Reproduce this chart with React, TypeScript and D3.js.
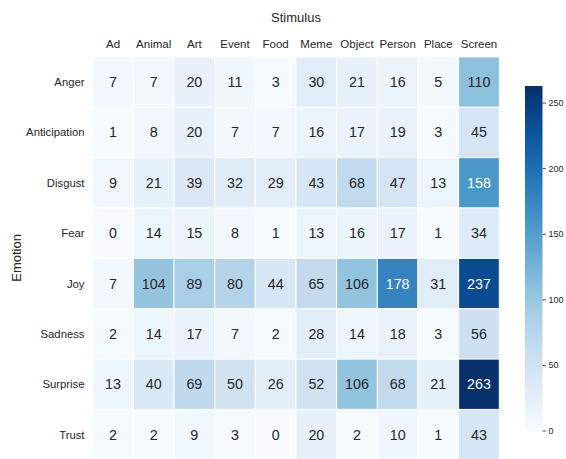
import React from "react";
import * as d3 from "d3";

const stimuli = ["Ad", "Animal", "Art", "Event", "Food", "Meme", "Object", "Person", "Place", "Screen"];
const emotions = ["Anger", "Anticipation", "Disgust", "Fear", "Joy", "Sadness", "Surprise", "Trust"];

const anger = [7, 7, 20, 11, 3, 30, 21, 16, 5, 110];
const anticipation = [1, 8, 20, 7, 7, 16, 17, 19, 3, 45];
const disgust = [9, 21, 39, 32, 29, 43, 68, 47, 13, 158];
const fear = [0, 14, 15, 8, 1, 13, 16, 17, 1, 34];
const joy = [7, 104, 89, 80, 44, 65, 106, 178, 31, 237];
const sadness = [2, 14, 17, 7, 2, 28, 14, 18, 3, 56];
const surprise = [13, 40, 69, 50, 26, 52, 106, 68, 21, 263];
const trust = [2, 2, 9, 3, 0, 20, 2, 10, 1, 43];

const matrix = [anger, anticipation, disgust, fear, joy, sadness, surprise, trust];
const cbTicks = [0, 50, 100, 150, 200, 250];

const W = 566;
const H = 459;
const gx0 = 92.7, gx1 = 499.3, gy0 = 56.9, gy1 = 459.8;
const cbx0 = 525, cbx1 = 542.5, cby0 = 86, cby1 = 431;
const FONT = "'Liberation Sans', Arial, sans-serif";
const TXT = "#262626";

function lum(c: string) {
  const rgb = d3.rgb(c);
  const f = (v: number) => {
    const s = v / 255;
    return s <= 0.03928 ? s / 12.92 : Math.pow((s + 0.055) / 1.055, 2.4);
  };
  return 0.2126 * f(rgb.r) + 0.7152 * f(rgb.g) + 0.0722 * f(rgb.b);
}

export default function App() {
  const vmax = d3.max(matrix.flat()) as number;
  const color = d3.scaleSequential(d3.interpolateBlues).domain([0, vmax]);
  const x = d3.scaleBand().domain(stimuli).range([gx0, gx1]);
  const y = d3.scaleBand().domain(emotions).range([gy0, gy1]);
  const cy = d3.scaleLinear().domain([0, vmax]).range([cby1, cby0]);
  const stops = d3.range(0, 1.0001, 0.05);

  return (
    <svg width={W} height={H} style={{ position: "absolute", left: 0, top: 0, background: "#fff" }}>
      <defs>
        <linearGradient id="cbg" x1="0" y1="1" x2="0" y2="0">
          {stops.map((t) => (
            <stop key={t} offset={t} stopColor={color(t * vmax)} />
          ))}
        </linearGradient>
      </defs>
      {matrix.map((row, i) =>
        row.map((v, j) => {
          const c = color(v);
          const xx = x(stimuli[j]) as number;
          const yy = y(emotions[i]) as number;
          return (
            <g key={`${i}-${j}`}>
              <rect x={xx} y={yy} width={x.bandwidth()} height={y.bandwidth()} fill={c} stroke="#fff" strokeWidth={1} />
              <text
                x={xx + x.bandwidth() / 2}
                y={yy + y.bandwidth() / 2}
                textAnchor="middle"
                dominantBaseline="central"
                fontFamily={FONT}
                fontSize={14.3}
                fill={lum(c) > 0.408 ? TXT : "#ffffff"}
              >
                {v}
              </text>
            </g>
          );
        })
      )}
      {stimuli.map((s) => (
        <text key={s} x={(x(s) as number) + x.bandwidth() / 2} y={47.5} textAnchor="middle" fontFamily={FONT} fontSize={11.5} fill={TXT}>
          {s}
        </text>
      ))}
      {emotions.map((e) => (
        <text key={e} x={84.5} y={(y(e) as number) + y.bandwidth() / 2} textAnchor="end" dominantBaseline="central" fontFamily={FONT} fontSize={11.3} fill={TXT}>
          {e}
        </text>
      ))}
      <text x={(gx0 + gx1) / 2} y={21.5} textAnchor="middle" fontFamily={FONT} fontSize={13} fill={TXT}>
        Stimulus
      </text>
      <text transform={`translate(20.5, ${(gy0 + 459) / 2}) rotate(-90)`} textAnchor="middle" fontFamily={FONT} fontSize={13} fill={TXT}>
        Emotion
      </text>
      <rect x={cbx0} y={cby0} width={cbx1 - cbx0} height={cby1 - cby0} fill="url(#cbg)" />
      {cbTicks.map((t) => (
        <g key={t}>
          <line x1={cbx1} x2={cbx1 + 3.5} y1={cy(t)} y2={cy(t)} stroke={TXT} strokeWidth={0.8} />
          <text x={cbx1 + 6} y={cy(t)} dominantBaseline="central" fontFamily={FONT} fontSize={9} fill={TXT}>
            {t}
          </text>
        </g>
      ))}
    </svg>
  );
}
